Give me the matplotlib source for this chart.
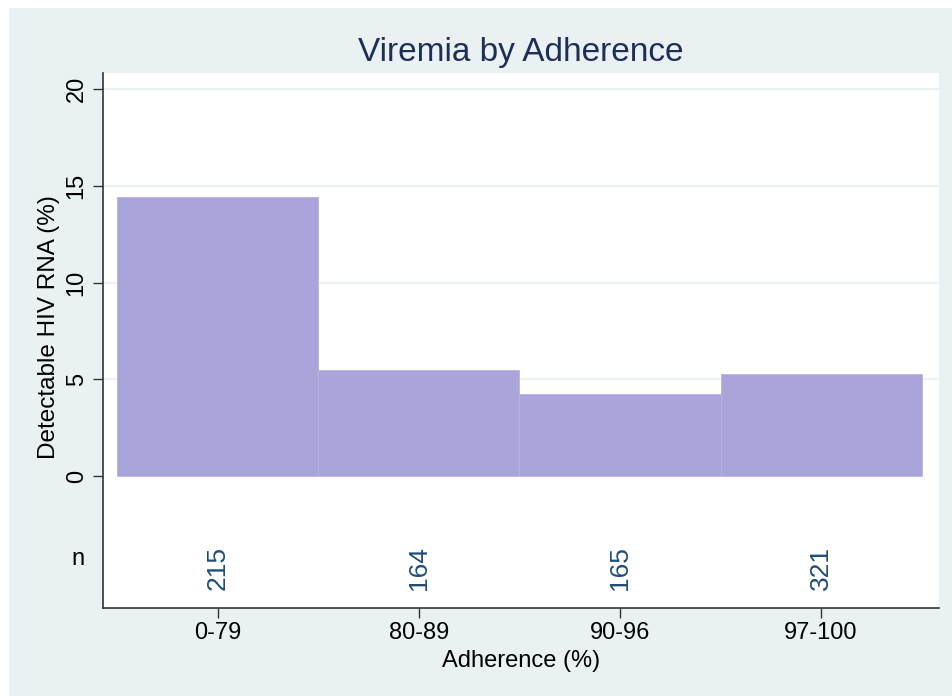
import matplotlib
matplotlib.use("Agg")
import matplotlib.pyplot as plt
from matplotlib.patches import Rectangle

categories = ["0-79", "80-89", "90-96", "97-100"]
detectable = [14.4, 5.48, 4.24, 5.27]
n_counts = [215, 164, 165, 321]
yticks = [0, 5, 10, 15, 20]

plt.rcParams['font.family'] = ['Liberation Sans', 'DejaVu Sans']

fig = plt.figure(figsize=(9.52, 6.96), dpi=100)
fig.patch.set_facecolor("white")
fig.patches.append(Rectangle((9/952, 0), 1, 1 - 8/696, transform=fig.transFigure,
                             facecolor="#EAF1F3", edgecolor="none", zorder=-10))

L, R, T, B = 103, 939, 73, 608
ax = fig.add_axes([L/952, 1 - B/696, (R-L)/952, (B-T)/696])
ax.set_facecolor("white")

x = list(range(len(categories)))
for yv in [5, 10, 15, 20]:
    ax.axhline(yv, color="#EBF2F4", lw=1.5, zorder=0)
ax.bar(x, detectable, width=1.0, color="#A9A5DB", edgecolor="#B8B4E2", linewidth=0.6, zorder=2)

for xi, nv in zip(x, n_counts):
    ax.text(xi, -4.75, str(nv), rotation=90, ha="center", va="center",
            fontsize=19, color="#1F4E79")
ax.text(-0.572 - 0.125, -4.3, "n", ha="center", va="center", fontsize=17,
        color="black", clip_on=False)

ax.set_xlim(-0.572, 3.587)
ax.set_ylim(-6.82, 20.83)
ax.set_yticks(yticks)
ax.set_yticklabels([str(t) for t in yticks], rotation=90, va="center")
ax.set_xticks(x)
ax.set_xticklabels(categories)
ax.tick_params(axis="both", labelsize=17, length=7, width=1, color="#333333", direction="out")
ax.tick_params(axis="x", pad=3)
ax.tick_params(axis="y", pad=4)

for s in ["top", "right"]:
    ax.spines[s].set_visible(False)
for s in ["left", "bottom"]:
    ax.spines[s].set_color("#333333")
    ax.spines[s].set_linewidth(1.2)

ax.set_ylabel("Detectable HIV RNA (%)", fontsize=17.5, va="center")
ax.yaxis.set_label_coords((49 - L) / (R - L), (B - 327) / (B - T))
ax.set_xlabel("Adherence (%)", fontsize=17, va="center")
ax.xaxis.set_label_coords(0.5, (B - 661) / (B - T))
fig.text(521/952, 1 - 52/696, "Viremia by Adherence", ha="center", va="center",
         fontsize=24, color="#1F2E57")

fig.savefig("out.png", dpi=100)
